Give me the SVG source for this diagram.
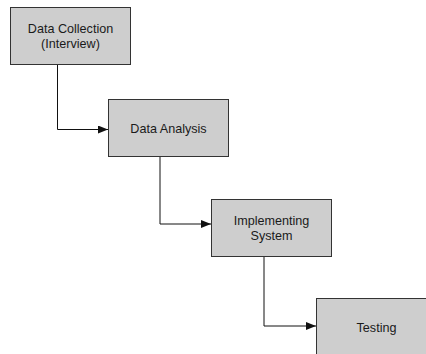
<svg xmlns="http://www.w3.org/2000/svg" width="426" height="354" viewBox="0 0 426 354">
<defs>
<style>
.box{fill:#cecece;stroke:#333;stroke-width:1}
.lbl{font-family:"Liberation Sans",Arial,sans-serif;font-size:12.6px;fill:#1a1a1a;text-anchor:middle}
.con{fill:none;stroke:#111;stroke-width:1}
</style>
<marker id="arr" viewBox="0 0 10 8" refX="10" refY="4" markerWidth="10" markerHeight="8" markerUnits="userSpaceOnUse" orient="auto">
<path d="M0,0 L10,4 L0,8 Z" fill="#111"/>
</marker>
</defs>
<rect width="426" height="354" fill="#fff"/>
<g id="connectors">
<path class="con" d="M57.5,64 V129.5 H108" marker-end="url(#arr)"/>
<path class="con" d="M160,156 V224 H211" marker-end="url(#arr)"/>
<path class="con" d="M264,256 V326 H316" marker-end="url(#arr)"/>
</g>
<g id="node1">
<rect class="box" x="10.5" y="7.5" width="120" height="57"/>
<text class="lbl" x="70.5" y="33">Data Collection</text>
<text class="lbl" x="70.5" y="48">(Interview)</text>
</g>
<g id="node2">
<rect class="box" x="108.5" y="99.5" width="120" height="57"/>
<text class="lbl" x="168.5" y="132.5">Data Analysis</text>
</g>
<g id="node3">
<rect class="box" x="211.5" y="199.5" width="120" height="57"/>
<text class="lbl" x="271.5" y="225">Implementing</text>
<text class="lbl" x="271.5" y="240">System</text>
</g>
<g id="node4">
<rect class="box" x="316.5" y="298.5" width="120" height="57"/>
<text class="lbl" x="376.5" y="331.5">Testing</text>
</g>
</svg>
